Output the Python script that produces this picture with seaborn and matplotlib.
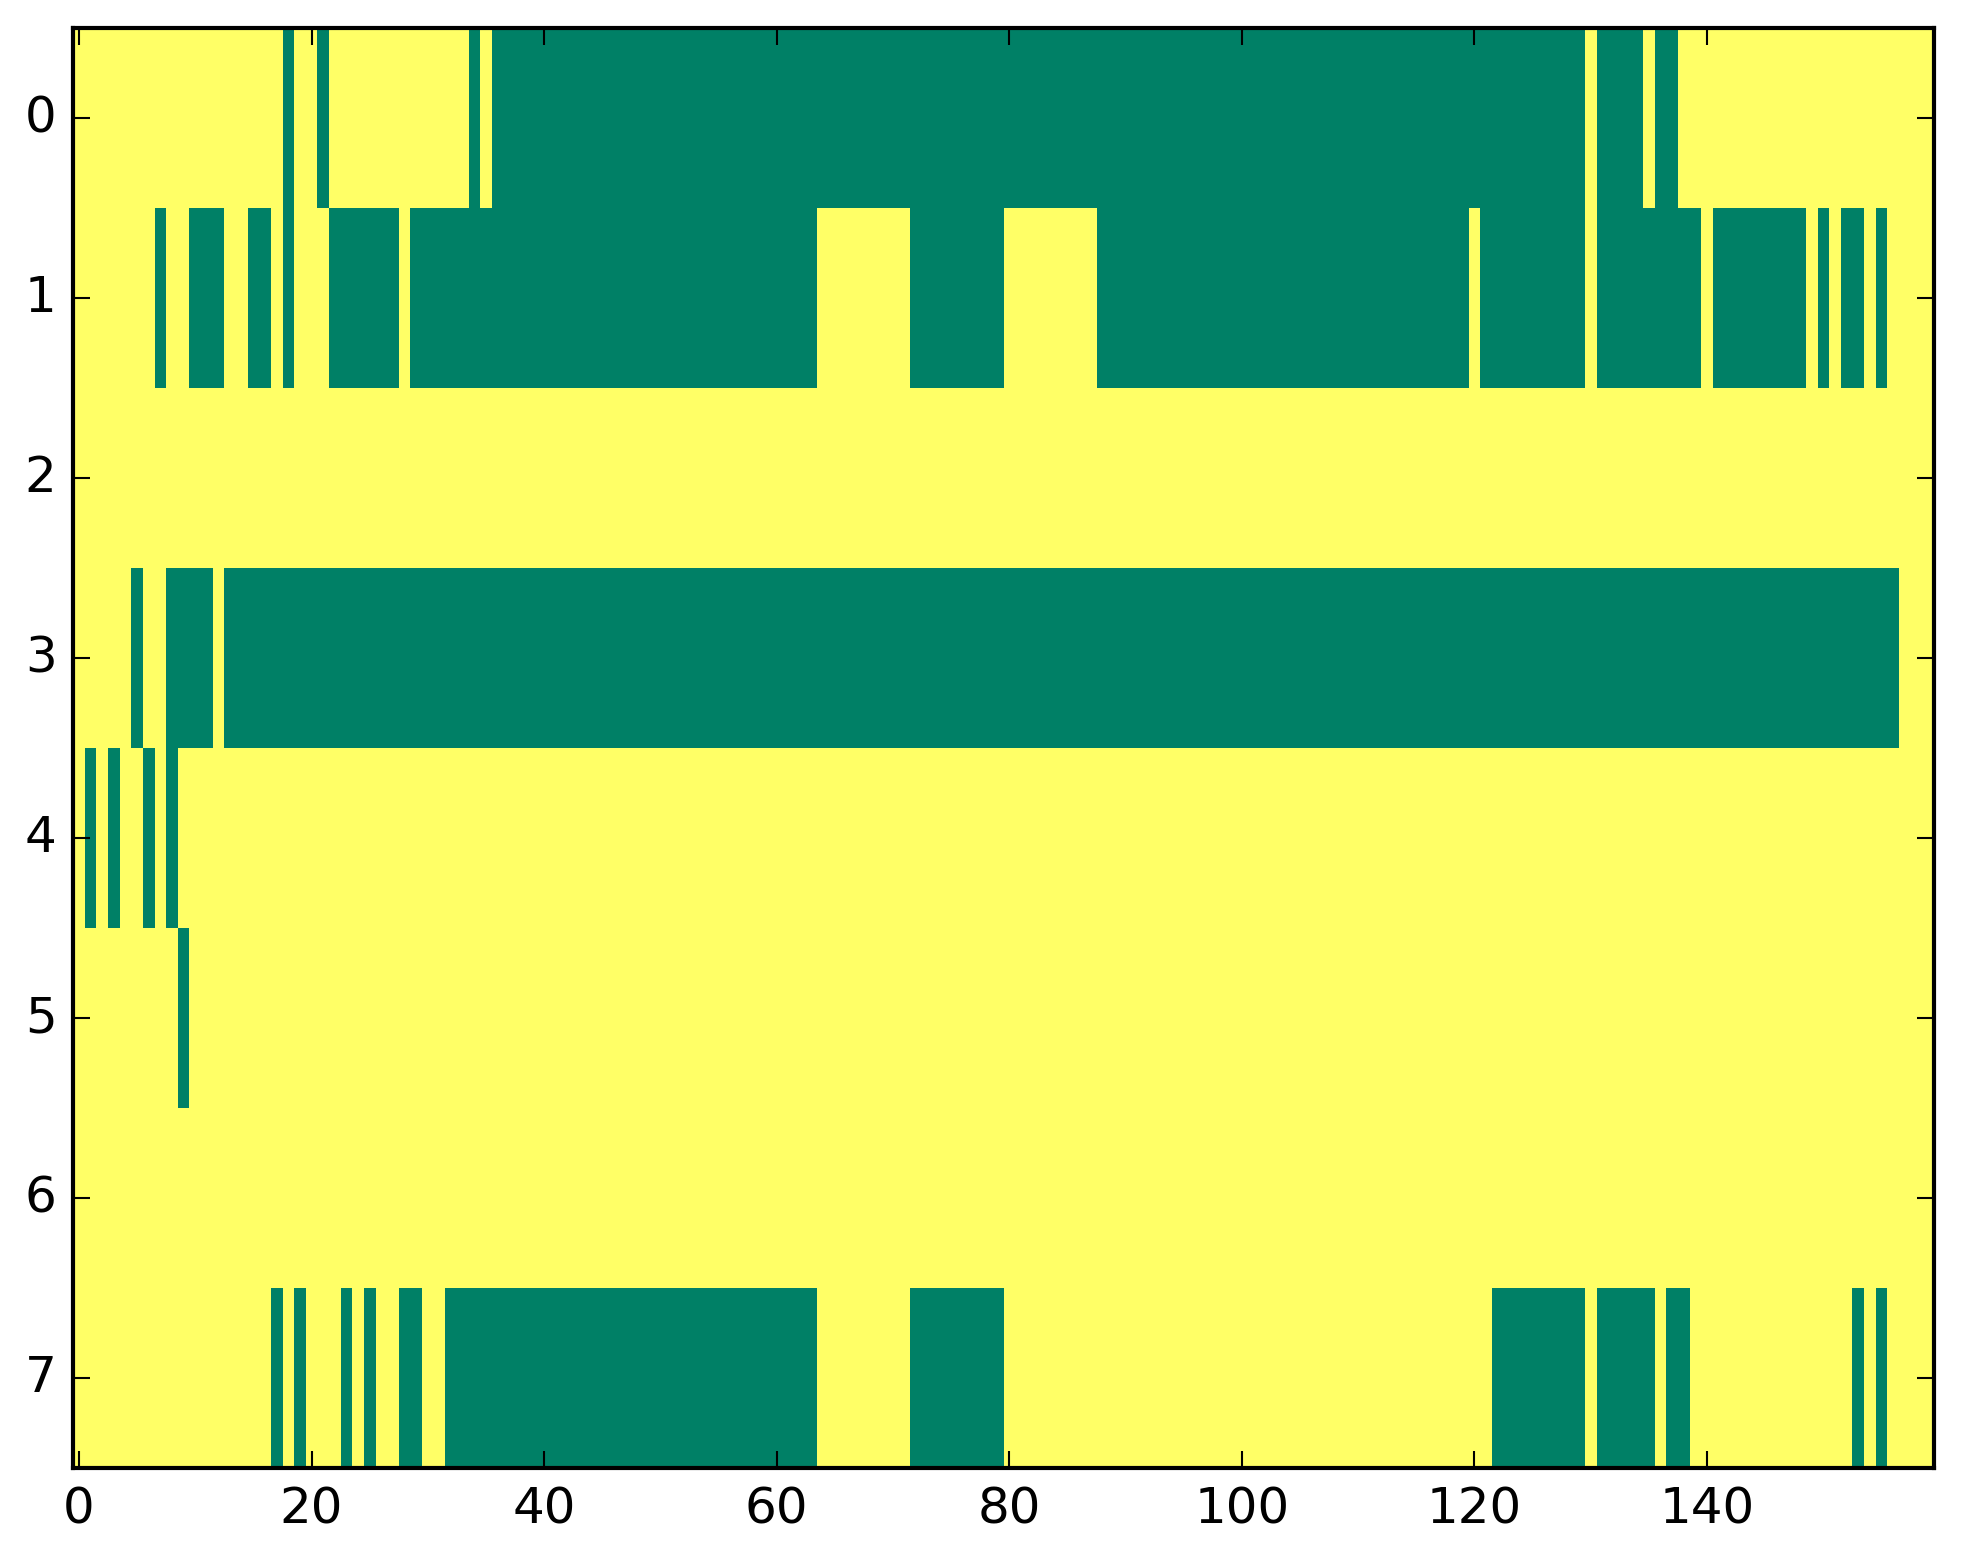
import numpy as np
import pandas as pd
import matplotlib
matplotlib.use("Agg")
import matplotlib.pyplot as plt
import seaborn as sns

# Data: 8 rows x 160 columns of a binary mask (1 = yellow, 0 = green).
n_cols = 160
row_labels = [0, 1, 2, 3, 4, 5, 6, 7]
# green (value 0) runs per row, inclusive column index ranges
green_row0 = [(18, 18), (21, 21), (34, 34), (36, 129), (131, 134), (136, 137)]
green_row1 = [(7, 7), (10, 12), (15, 16), (18, 18), (22, 27), (29, 63), (72, 79),
              (88, 119), (121, 129), (131, 139), (141, 148), (150, 150),
              (152, 153), (155, 155)]
green_row2 = []
green_row3 = [(5, 5), (8, 11), (13, 156)]
green_row4 = [(1, 1), (3, 3), (6, 6), (8, 8)]
green_row5 = [(9, 9)]
green_row6 = []
green_row7 = [(17, 17), (19, 19), (23, 23), (25, 25), (28, 29), (32, 63), (72, 79),
              (122, 129), (131, 135), (137, 138), (153, 153), (155, 155)]
green_runs = [green_row0, green_row1, green_row2, green_row3,
              green_row4, green_row5, green_row6, green_row7]

xtick_values = [0, 20, 40, 60, 80, 100, 120, 140]

mask = np.ones((len(row_labels), n_cols))
for r, runs in enumerate(green_runs):
    for a, b in runs:
        mask[r, a:b + 1] = 0
df = pd.DataFrame(mask, index=row_labels, columns=range(n_cols))

plt.style.use("classic")
plt.rcParams["font.family"] = ["DejaVu Sans"]

W, H = 1963, 1564
fig = plt.figure(figsize=(W / 300, H / 300), dpi=300, facecolor="white")
ax = fig.add_axes([73.2 / W, 1 - 1468.5 / H, 1860.6 / W, 1440 / H])

sns.heatmap(df, ax=ax, cmap="summer", vmin=0, vmax=1, cbar=False,
            xticklabels=False, yticklabels=False)

ax.set_xticks(np.array(xtick_values) + 0.5)
ax.set_xticklabels([str(v) for v in xtick_values], fontsize=12)
ax.set_yticks(np.array(row_labels) + 0.5)
ax.set_yticklabels([str(v) for v in row_labels], fontsize=12, rotation=0)
ax.set_xlabel("")
ax.set_ylabel("")

for s in ax.spines.values():
    s.set_visible(True)
    s.set_linewidth(1.0)
    s.set_color("black")

ax.tick_params(axis="both", which="major", direction="in", length=4, width=0.5,
               top=True, right=True, bottom=True, left=True,
               labeltop=False, labelright=False, pad=4, labelsize=12)

fig.savefig("out.png", dpi=300, facecolor="white")
